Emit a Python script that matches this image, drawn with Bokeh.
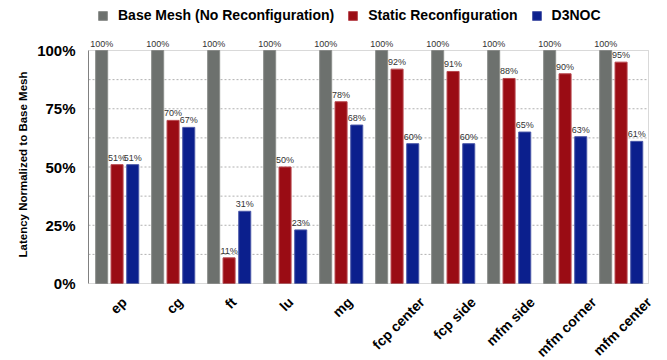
import numpy as np
from bokeh.plotting import figure
from bokeh.models import (ColumnDataSource, Range1d, FixedTicker, LabelSet,
                          Legend, LegendItem, BoxAnnotation, Title)
from bokeh.core.properties import value
from bokeh.embed import file_html
from bokeh.resources import INLINE

categories = ["ep", "cg", "ft", "lu", "mg", "fcp center", "fcp side",
              "mfm side", "mfm corner", "mfm center"]
base_mesh = [100, 100, 100, 100, 100, 100, 100, 100, 100, 100]
static_reconf = [51, 70, 11, 50, 78, 92, 91, 88, 90, 95]
d3noc = [51, 67, 31, 23, 68, 60, 60, 65, 63, 61]
y_ticks = [0, 0.25, 0.5, 0.75, 1.0]
y_tick_labels = ["0%", "25%", "50%", "75%", "100%"]
grid_levels = [0.125, 0.25, 0.375, 0.5, 0.625, 0.75, 0.875]
series_names = ["Base Mesh (No Reconfiguration)", "Static Reconfiguration", "D3NOC"]
y_title = "Latency Normalized to Base Mesh"

colors = ["#6d716e", "#9a0c14", "#0b1f8d"]
edge_colors = ["#8c8f8c", "#b8474e", "#4a57a8"]
offsets = [-0.265, 0.01, 0.29]
bar_w = 0.215

W, H = 667, 360
left_px, right_px = 88, 648       # plot box edges in pixels
top_px, bottom_px = 50, 283
n = len(categories)
px_per_x = (right_px - left_px) / n
px_per_y = (bottom_px - top_px) / 1.0

centers = [i + 0.5 for i in range(n)]

x_rng = Range1d(0, n + (W - right_px) / px_per_x)
y_rng = Range1d(-(H - bottom_px) / px_per_y, 1.0 + top_px / px_per_y)

p = figure(width=W, height=H, output_backend="svg", toolbar_location=None,
           x_range=x_rng, y_range=y_rng,
           min_border_left=left_px, min_border_right=0, min_border_top=0,
           min_border_bottom=0)
p.background_fill_color = "white"
p.border_fill_color = "white"
p.outline_line_color = None

# dotted grid lines inside the plot box
p.segment(x0=[0] * len(grid_levels), x1=[n] * len(grid_levels),
          y0=grid_levels, y1=grid_levels, line_color="#b0b0b0",
          line_dash="2 2", line_width=1)

renderers = []
for k, vals in enumerate([base_mesh, static_reconf, d3noc]):
    src = ColumnDataSource(dict(
        x=[c + offsets[k] for c in centers],
        top=[v / 100 for v in vals],
        lab=[f"{v}%" for v in vals],
    ))
    r = p.vbar(x="x", top="top", bottom=0, width=bar_w, source=src,
               fill_color=colors[k], line_color=edge_colors[k], line_width=1)
    renderers.append(r)
    ls = LabelSet(x="x", y="top", text="lab", source=src, text_align="center",
                  text_baseline="bottom", y_offset=2, text_font_size="9px",
                  text_font=value("Liberation Sans"), text_color="#333333")
    p.add_layout(ls)

# plot box
p.add_layout(BoxAnnotation(left=0, right=n, bottom=0, top=1.0,
                           fill_alpha=0, line_color="#808080", line_width=1,
                           level="overlay"))

# category labels: rotated 45 deg, box centred under each group
bold_w = {"e": .556, "p": .611, "c": .556, "g": .611, "f": .333, "t": .333,
          "l": .278, "u": .611, "m": .889, " ": .278, "n": .611, "r": .389,
          "s": .556, "i": .278, "d": .611, "o": .611}
cat_fs = 14
cat_len = [cat_fs * sum(bold_w.get(ch, .6) for ch in s) for s in categories]
cat_yoff = [-(13 + (L + 9) * np.sqrt(0.5) / 2) for L in cat_len]
cat_src = ColumnDataSource(dict(x=centers, y=[0] * n, t=categories, yo=cat_yoff))
cat_labels = LabelSet(x="x", y="y", text="t", source=cat_src, angle=45,
                      angle_units="deg", text_align="center",
                      text_baseline="middle", x_offset=2, y_offset="yo",
                      text_font_size=f"{cat_fs}px", text_font_style="bold",
                      text_font=value("Liberation Sans"), text_color="black")
p.add_layout(cat_labels)

p.xaxis.visible = False

p.yaxis.bounds = (0, 1.0)
p.yaxis.ticker = FixedTicker(ticks=y_ticks)
p.yaxis.major_label_overrides = {t: l for t, l in zip(y_ticks, y_tick_labels)}
p.yaxis.major_label_text_font = "Liberation Sans"
p.yaxis.major_label_text_font_style = "bold"
p.yaxis.major_label_text_font_size = "15px"
p.yaxis.major_label_text_color = "black"
p.yaxis.major_label_standoff = 7
p.yaxis.major_tick_line_color = None
p.yaxis.minor_tick_line_color = None
p.yaxis.axis_line_color = "#808080"

# y axis title, centred on the plot box (not on the whole canvas)
p.add_layout(Title(text=y_title, align="left", offset=H - 257,
                   text_font="Liberation Sans", text_font_style="bold",
                   text_font_size="11.5px", text_color="black", standoff=11),
             "left")

p.xgrid.visible = False
p.ygrid.visible = False

legend = Legend(items=[LegendItem(label=nm, renderers=[r])
                       for nm, r in zip(series_names, renderers)],
                orientation="horizontal", location=(9, H - 23),
                glyph_width=11, glyph_height=11, label_standoff=10,
                spacing=13, padding=0, margin=0,
                label_text_font="Liberation Sans", label_text_font_style="bold",
                label_text_font_size="14px", label_text_color="black",
                border_line_color=None, background_fill_alpha=0)
p.add_layout(legend, "center")

open("out.html", "w").write(file_html(p, INLINE))
